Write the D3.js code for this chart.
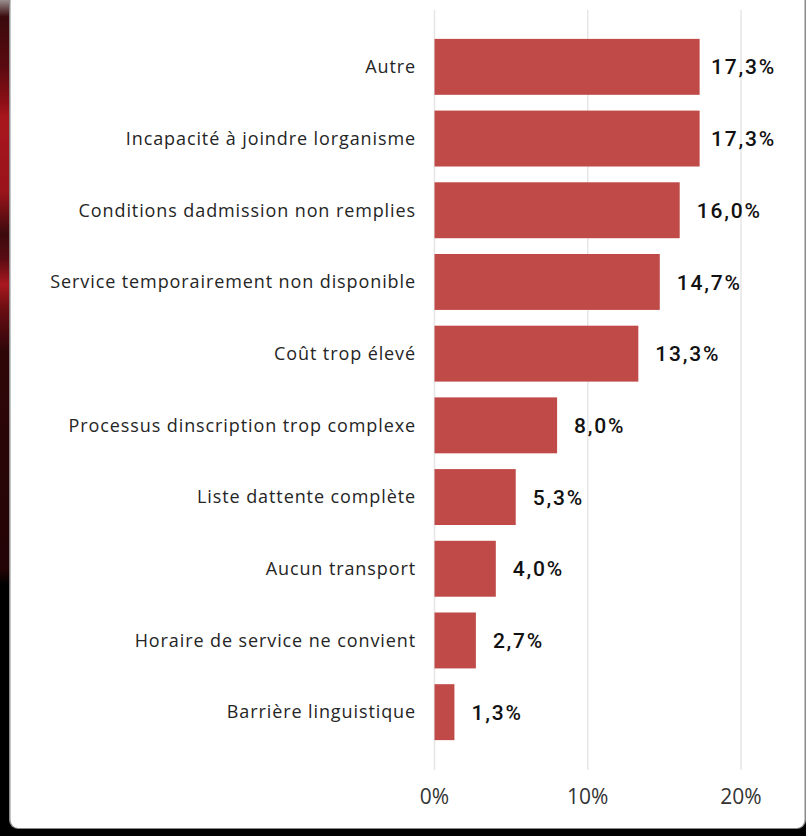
<!DOCTYPE html>
<html><head><meta charset="utf-8">
<script src="https://cdn.jsdelivr.net/npm/d3@7"></script>
<style>
html,body{margin:0;padding:0;background:#000;overflow:hidden;}
svg{display:block;}
</style></head>
<body>
<svg id="c" width="806" height="836"></svg>
<script>
const categories = ["Autre","Incapacité à joindre lorganisme","Conditions dadmission non remplies","Service temporairement non disponible","Coût trop élevé","Processus dinscription trop complexe","Liste dattente complète","Aucun transport","Horaire de service ne convient","Barrière linguistique"];
const values = [17.3,17.3,16.0,14.7,13.3,8.0,5.3,4.0,2.7,1.3];
const valueLabels = ["17,3%","17,3%","16,0%","14,7%","13,3%","8,0%","5,3%","4,0%","2,7%","1,3%"];
const tickValues = [0,10,20];
const tickLabels = ["0%","10%","20%"];

const svg = d3.select("#c");
// background strip
const defs = svg.append("defs");
const g = defs.append("linearGradient").attr("id","bg").attr("x1",0).attr("y1",0).attr("x2",0).attr("y2",1);
[[0,"#9a8f90"],[0.02,"#3a0a0c"],[0.08,"#5a0a10"],[0.12,"#8a0f16"],[0.14,"#a8161d"],[0.23,"#9a141b"],[0.28,"#3c0a0c"],[0.31,"#5a0c12"],[0.34,"#a8181e"],[0.37,"#6a0e12"],[0.42,"#2e0608"],[0.68,"#240406"],[0.7,"#000"],[1,"#000"]]
  .forEach(([o,c])=>g.append("stop").attr("offset",o).attr("stop-color",c));
svg.append("rect").attr("x",0).attr("y",0).attr("width",806).attr("height",836).attr("fill","url(#bg)");
svg.append("rect").attr("x",0).attr("y",812).attr("width",806).attr("height",24).attr("fill","#000");
svg.append("rect").attr("x",9).attr("y",-20).attr("width",797).attr("height",849).attr("rx",9).attr("fill","#8a8a8a");
svg.append("rect").attr("x",10.5).attr("y",-20).attr("width",794).attr("height",848).attr("rx",8).attr("fill","#fff");

const x = d3.scaleLinear().domain([0,20]).range([434.5,741]);
const y = d3.scaleBand().domain(categories).range([31,748]).paddingInner(0.22).paddingOuter(0.11);

// gridlines
svg.append("g").selectAll("line").data(tickValues).join("line")
  .attr("x1",d=>x(d)).attr("x2",d=>x(d)).attr("y1",10).attr("y2",770)
  .attr("stroke","#e6e6e6").attr("stroke-width",1.5);

// tick labels
svg.append("g").selectAll("text").data(tickValues).join("text")
  .attr("x",d=>x(d)).attr("y",804).attr("text-anchor","middle")
  .attr("font-family","'Open Sans', 'Noto Sans', sans-serif").attr("font-size",21).attr("fill","#333")
  .text((d,i)=>tickLabels[i]);

// bars
svg.append("g").selectAll("rect").data(values).join("rect")
  .attr("x",x(0)).attr("y",(d,i)=>y(categories[i]))
  .attr("width",d=>x(d)-x(0)).attr("height",y.bandwidth())
  .attr("fill","#bf4a48");

// category labels
svg.append("g").selectAll("text").data(categories).join("text")
  .attr("x",416).attr("y",d=>y(d)+y.bandwidth()/2).attr("dy","0.35em")
  .attr("text-anchor","end")
  .attr("font-family","'Open Sans', 'Noto Sans', sans-serif").attr("font-size",18).attr("letter-spacing",0.9).attr("fill","#252525")
  .text(d=>d);

// value labels
const vl = svg.append("g").selectAll("text").data(values).join("text")
  .attr("y",(d,i)=>y(categories[i])+y.bandwidth()/2).attr("dy","0.36em")
  .attr("font-family","Roboto, 'DejaVu Sans Condensed', sans-serif").attr("font-weight",500).attr("font-size",21).attr("letter-spacing",1.8).attr("fill","#111")
  .text((d,i)=>valueLabels[i]);
vl.each(function(d){
  const w = this.getComputedTextLength();
  const px = Math.min(x(d)+17, 776 - w);
  d3.select(this).attr("x",px);
});
</script>
</body></html>
